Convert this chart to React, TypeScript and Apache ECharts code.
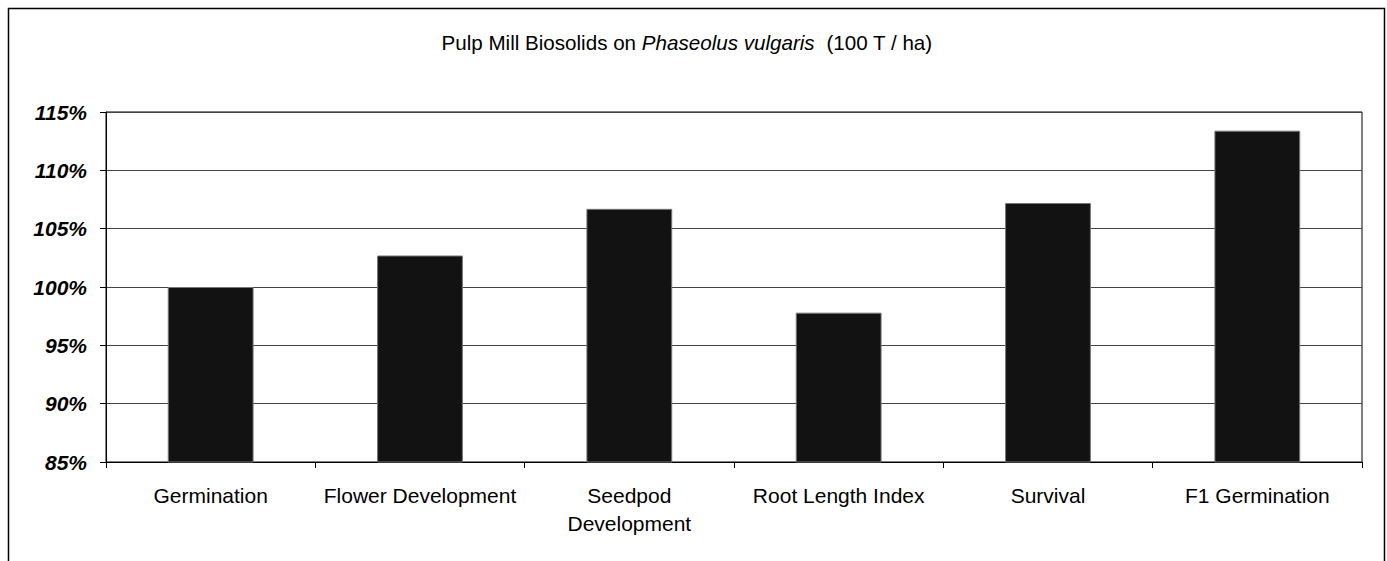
import React, { useEffect, useRef } from "react";
import * as echarts from "echarts";

const categories = ["Germination", "Flower Development", "Seedpod\nDevelopment", "Root Length Index", "Survival", "F1 Germination"];
const values = [100.0, 102.7, 106.7, 97.8, 107.2, 113.4];
const yMin = 85;
const yMax = 115;
const yStep = 5;

const FONT = "Liberation Sans, Arial, sans-serif";

export default function App() {
  const ref = useRef<HTMLDivElement>(null);
  useEffect(() => {
    document.body.style.margin = "0";
    const chart = echarts.init(ref.current!, null, { renderer: "svg" });
    chart.setOption({
      animation: false,
      backgroundColor: "#fff",
      textStyle: { fontFamily: FONT },
      graphic: [
        {
          type: "rect",
          shape: { x: 8.5, y: 8.5, width: 1376, height: 620 },
          style: { fill: "none", stroke: "#000", lineWidth: 1.5 },
          silent: true,
        },
      ],
      title: {
        text: "{n|Pulp Mill Biosolids on }{i|Phaseolus vulgaris}{n|  (100 T / ha)}",
        left: 687,
        textAlign: "center",
        top: 32,
        padding: 0,
        textStyle: {
          fontWeight: "normal",
          rich: {
            n: { fontSize: 20.6, lineHeight: 21, color: "#000", fontWeight: "normal", fontFamily: FONT },
            i: { fontSize: 20.6, lineHeight: 21, color: "#000", fontWeight: "normal", fontStyle: "italic", fontFamily: FONT },
          },
        },
      },
      grid: {
        left: 106,
        top: 112,
        right: 25,
        bottom: 99,
        show: true,
        borderColor: "#000",
        borderWidth: 1,
        backgroundColor: "transparent",
      },
      xAxis: {
        type: "category",
        data: categories,
        axisLine: { lineStyle: { color: "#000", width: 1 } },
        axisTick: { show: true, length: 6, alignWithLabel: false, lineStyle: { color: "#000" } },
        axisLabel: {
          color: "#000",
          fontSize: 21,
          lineHeight: 28,
          margin: 19,
          interval: 0,
          fontFamily: FONT,
        },
      },
      yAxis: {
        type: "value",
        min: yMin,
        max: yMax,
        interval: yStep,
        axisLine: { show: true, lineStyle: { color: "#000", width: 1 } },
        axisTick: { show: true, length: 6, lineStyle: { color: "#000" } },
        splitLine: { show: true, lineStyle: { color: "#444", width: 1 } },
        axisLabel: {
          color: "#000",
          fontSize: 21,
          fontWeight: "bold",
          fontStyle: "italic",
          margin: 19,
          formatter: (v: number) => `${v}%`,
          fontFamily: FONT,
        },
      },
      series: [
        {
          type: "bar",
          data: values,
          barWidth: "41%",
          itemStyle: { color: "#121212", borderColor: "#777", borderWidth: 1 },
        },
      ],
    });
    return () => chart.dispose();
  }, []);
  return <div ref={ref} style={{ width: 1387, height: 561 }} />;
}
